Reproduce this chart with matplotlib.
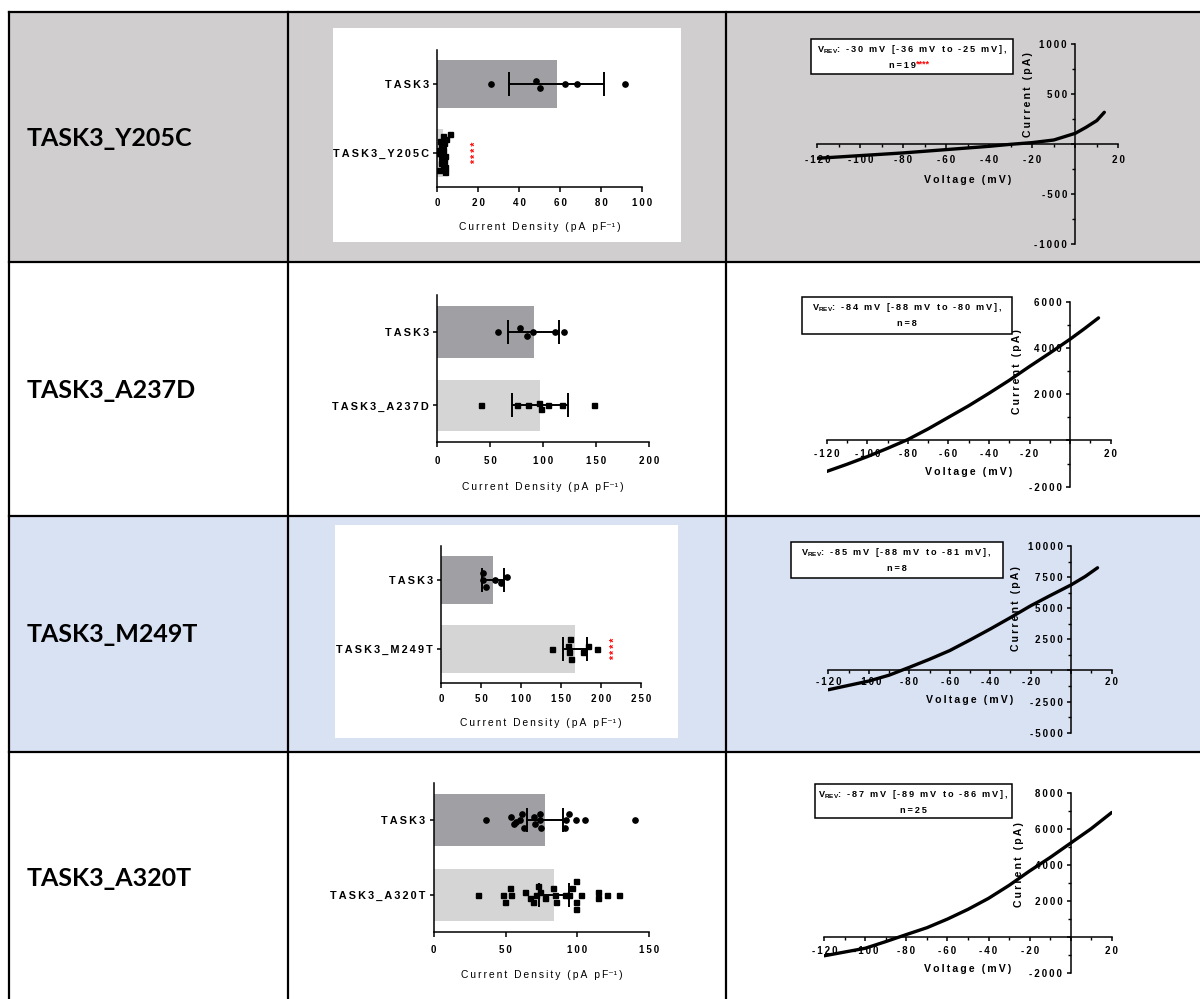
import numpy as np
import matplotlib
matplotlib.use("Agg")
import matplotlib.pyplot as plt
from matplotlib.patches import Rectangle
from matplotlib.lines import Line2D

plt.rcParams['font.family'] = ['Liberation Sans', 'DejaVu Sans']
plt.rcParams['font.weight'] = 'bold'
plt.rcParams['mathtext.fontset'] = 'custom'
plt.rcParams['mathtext.rm'] = 'Liberation Sans:bold'
plt.rcParams['mathtext.bf'] = 'Liberation Sans:bold'
plt.rcParams['mathtext.it'] = 'Liberation Sans:bold:italic'

W, H = 1200, 999
GREY_ROW = '#d0cece'
BLUE_ROW = '#d9e2f3'
DARK_BAR = '#a09fa3'
LIGHT_BAR = '#d5d5d5'
THIN = '\u2009'

# row names
mutants = ['TASK3_Y205C', 'TASK3_A237D', 'TASK3_M249T', 'TASK3_A320T']

# ---- current density (bar) data ----
y205c_cats = ['TASK3', 'TASK3_Y205C']
y205c_mean = [58.4, 2.9]
y205c_sd = [23.2, 1.4]
y205c_wt = [26.4, 48.4, 50.3, 62.5, 68.4, 91.7]
y205c_wt_dy = [0, 0.05, -0.05, 0, 0, 0]
y205c_mut = [6.0, 2.8, 4.2, 1.5, 3.5, 2.0, 0.8, 3.0, 1.2, 2.5, 3.8, 0.5, 2.2, 3.2, 1.8, 4.0, 2.6, 1.0, 3.6]
y205c_mut_dy = [0.28, 0.25, 0.2, 0.18, 0.15, 0.1, 0.05, 0.05, 0.0, -0.02, -0.05, 0.0,
                -0.08, -0.12, -0.15, -0.2, -0.22, -0.25, -0.28]

a237d_cats = ['TASK3', 'TASK3_A237D']
a237d_mean = [91.2, 97.0]
a237d_sd = [23.9, 26.4]
a237d_wt = [57.5, 78, 84.5, 90, 111.5, 120]
a237d_wt_dy = [0, 0.05, -0.05, 0, 0, 0]
a237d_mut = [41, 75.5, 86, 96, 98, 104.5, 117.5, 147.5]
a237d_mut_dy = [0, 0, 0, 0.03, -0.05, 0, 0, 0]

m249t_cats = ['TASK3', 'TASK3_M249T']
m249t_mean = [65.0, 167.5]
m249t_sd = [13.2, 14.8]
m249t_wt = [52.5, 53, 56, 67, 75, 82]
m249t_wt_dy = [0, 0.1, -0.09, 0, -0.04, 0.05]
m249t_mut = [138.5, 159, 161, 160, 163, 178, 184, 194.5]
m249t_mut_dy = [0, 0.04, 0.14, -0.05, -0.14, -0.05, 0.05, 0]

a320t_cats = ['TASK3', 'TASK3_A320T']
a320t_mean = [77.7, 83.5]
a320t_sd = [12.6, 10.5]
a320t_wt = [36.4, 53.8, 55.9, 57.3, 59.8, 61.4, 62.6, 69.6, 70.3, 74.2, 74.2, 74.9,
            91.1, 91.8, 93.9, 99.0, 105.5, 140.3]
a320t_wt_dy = [0, 0.04, -0.05, -0.02, 0, 0.09, -0.1, 0.04, -0.05, 0.09, 0, -0.1,
               -0.1, 0, 0.09, 0, 0, 0]
a320t_mut = [30.6, 48.2, 49.9, 52.9, 53.8, 63.5, 66.8, 68.9, 71.4, 72.6, 74.2, 77.2, 83.0,
             84.2, 85.1, 91.1, 94.4, 96.2, 99.2, 99.2, 99.2, 102.5, 114.3, 114.3, 120.6, 129.1]
a320t_mut_dy = [0, 0, -0.1, 0.09, 0, 0.04, -0.04, -0.1, 0, 0.12, 0.04, -0.05, 0.09,
                0, -0.1, 0, 0, 0.09, 0.18, -0.1, -0.19, 0, 0.04, -0.05, 0, 0]

# ---- I-V curves (mV, pA) ----
iv_v_y205c = [-120, -100, -80, -60, -40, -30, -20, -10, 0, 5, 10, 13.5]
iv_i_y205c = [-140, -113, -86, -53, -20, 0, 17, 43, 110, 170, 237, 320]
iv_v_a237d = [-120, -110, -100, -90, -80, -70, -60, -50, -40, -30, -20, -10, 0, 7, 14]
iv_i_a237d = [-1340, -1030, -700, -340, 40, 500, 1000, 1500, 2040, 2600, 3200, 3780, 4380, 4830, 5300]
iv_v_m249t = [-120, -110, -100, -90, -80, -70, -60, -50, -40, -30, -20, -10, 0, 7, 13]
iv_i_m249t = [-1550, -1200, -850, -380, 250, 900, 1600, 2450, 3330, 4250, 5200, 6050, 6880, 7560, 8250]
iv_v_a320t = [-120, -110, -100, -90, -80, -70, -60, -50, -40, -30, -20, -10, 0, 10, 20]
iv_i_a320t = [-1060, -850, -640, -270, 120, 500, 980, 1520, 2130, 2850, 3650, 4400, 5200, 6000, 6900]

vrev_labels = [': -30 mV [-36 mV to -25 mV],', ': -84 mV [-88 mV to -80 mV],',
               ': -85 mV [-88 mV to -81 mV],', ': -87 mV [-89 mV to -86 mV],']
n_labels = ['n=19', 'n=8', 'n=8', 'n=25']


def sp(s):
    return THIN.join(s)


def px(x0, y0, x1, y1):
    return [x0 / W, 1 - y1 / H, (x1 - x0) / W, (y1 - y0) / H]


fig = plt.figure(figsize=(12, 9.99), dpi=100)


def add_rect(x0, y0, x1, y1, z=-1, **kw):
    fig.patches.append(Rectangle((x0 / W, 1 - y1 / H), (x1 - x0) / W, (y1 - y0) / H,
                                 transform=fig.transFigure, zorder=z, **kw))


def add_line(x0, y0, x1, y1):
    fig.add_artist(Line2D([x0 / W, x1 / W], [1 - y0 / H, 1 - y1 / H], color='black',
                          lw=1.6, transform=fig.transFigure, zorder=-0.5))


# table
add_rect(9, 12, 1200, 262, facecolor=GREY_ROW, edgecolor='none', z=-2)
add_rect(9, 516, 1200, 752, facecolor=BLUE_ROW, edgecolor='none', z=-2)
add_rect(333, 28, 681, 242, facecolor='white', edgecolor='none', z=-1.5)
add_rect(335, 525, 678, 738, facecolor='white', edgecolor='none', z=-1.5)
for yy in [12, 262, 516, 752]:
    add_line(9, yy, 1200, yy)
for xx in [9, 288, 726]:
    add_line(xx, 12, xx, 999)

for name, yc in zip(mutants, [138, 391, 634, 878]):
    fig.text(27 / W, 1 - yc / H, name, fontfamily='Lato', fontweight='bold',
             fontsize=18, va='center', ha='left')


def bar_panel(rect, cats, means, sds, wt, wt_dy, mut, mut_dy, xmax, xstep,
              star_x=None, tpad=4, lpad=10.5):
    ax = fig.add_axes(px(*rect))
    ax.patch.set_visible(False)
    ypos = [1, 0]
    ax.barh(ypos, means, height=0.7, color=[DARK_BAR, LIGHT_BAR], zorder=1)
    ax.plot(wt, [1 + d for d in wt_dy], 'o', color='black', ms=3.8, zorder=2)
    ax.plot(mut, mut_dy, 's', color='black', ms=3.6, zorder=2)
    ax.errorbar(means, ypos, xerr=sds, fmt='none', ecolor='black', elinewidth=1.4,
                capsize=8.5, capthick=1.4, zorder=3)
    if star_x is not None:
        ax.text(star_x, 0, sp('****'), rotation=90, color='red', fontsize=7.5,
                ha='center', va='center')
    ax.set_xlim(0, xmax)
    ax.set_ylim(-0.5, 1.5)
    for s in ['top', 'right']:
        ax.spines[s].set_visible(False)
    for s in ['left', 'bottom']:
        ax.spines[s].set_linewidth(1.1)
    xt = np.arange(0, xmax + 1, xstep)
    ax.set_xticks(xt)
    ax.set_xticklabels([sp(str(t)) for t in xt])
    ax.set_yticks(ypos)
    ax.set_yticklabels([sp(c) for c in cats])
    ax.tick_params(axis='x', length=3.6, width=1.1, labelsize=7, pad=tpad)
    ax.tick_params(axis='y', length=3, width=1.1, labelsize=7.8, pad=3)
    ax.set_xlabel(sp('Current Density (pA pF') + '\u207b\u00b9' + THIN + ')',
                  fontsize=7.4, labelpad=lpad)
    return ax


def iv_panel(rect, v, cur, ylo, yhi, ystep, ylab_dx, box, vrev, nlab, stars=False,
             tpad=3, xlab_dy=-23):
    ax = fig.add_axes(px(*rect))
    ax.patch.set_visible(False)
    ax.plot(v, cur, color='black', lw=2.4, solid_capstyle='round', zorder=3)
    ax.set_xlim(-120, 20)
    ax.set_ylim(ylo, yhi)
    for s in ['top', 'right']:
        ax.spines[s].set_visible(False)
    for s in ['left', 'bottom']:
        ax.spines[s].set_position(('data', 0))
        ax.spines[s].set_linewidth(1.1)
    xt = np.arange(-120, 21, 20)
    ax.set_xticks(xt)
    ax.set_xticklabels([sp(str(t)) if t else '' for t in xt])
    ax.set_xticks(np.arange(-110, 20, 20), minor=True)
    yt = np.arange(ylo, yhi + 1, ystep)
    ax.set_yticks(yt)
    ax.set_yticklabels([sp(str(t)) if t else '' for t in yt])
    ax.set_yticks(np.arange(ylo + ystep / 2, yhi, ystep), minor=True)
    ax.tick_params(which='major', length=3, width=1.1, labelsize=7, pad=3)
    ax.tick_params(axis='x', which='major', pad=tpad)
    ax.tick_params(which='minor', length=2, width=1.0)
    ax.annotate(sp('Voltage') + THIN + ' ' + THIN + sp('(mV)'), xy=(0.5, 0),
                xycoords=('axes fraction', 'data'), xytext=(0, xlab_dy),
                textcoords='offset points', ha='center', va='center', fontsize=7.6)
    ax.annotate(sp('Current') + THIN + ' ' + THIN + sp('(pA)'), xy=(0, yhi / 2),
                xycoords='data', xytext=(ylab_dx, 0), textcoords='offset points',
                rotation=90, ha='center', va='center', fontsize=7.6)
    x0, y0, x1, y1 = box
    add_rect(x0, y0, x1, y1, z=4, facecolor='white', edgecolor='black', lw=1.1)
    cx = (x0 + x1) / 2
    fig.text(cx / W, 1 - (y0 + 10) / H, r'V$_{\mathrm{REV}}$' + sp(vrev), fontsize=6.55,
             ha='center', va='center', zorder=5)
    if stars:
        fig.text((cx + 4) / W, 1 - (y0 + 26) / H, sp(nlab), fontsize=6.6,
                 ha='right', va='center', zorder=5)
        fig.text((cx + 4) / W, 1 - (y0 + 25) / H, '****', fontsize=6.4, color='red',
                 ha='left', va='center', zorder=5)
    else:
        fig.text(cx / W, 1 - (y0 + 26) / H, sp(nlab), fontsize=6.6,
                 ha='center', va='center', zorder=5)
    return ax


bar_panel((437.3, 50, 642, 187.3), y205c_cats, y205c_mean, y205c_sd, y205c_wt, y205c_wt_dy,
          y205c_mut, y205c_mut_dy, 100, 20, star_x=19)
bar_panel((437, 295, 649.3, 442.3), a237d_cats, a237d_mean, a237d_sd, a237d_wt, a237d_wt_dy,
          a237d_mut, a237d_mut_dy, 200, 50, tpad=6, lpad=12)
bar_panel((441, 546, 641, 683.3), m249t_cats, m249t_mean, m249t_sd, m249t_wt, m249t_wt_dy,
          m249t_mut, m249t_mut_dy, 250, 50, star_x=217.5)
bar_panel((433.7, 783.3, 649.3, 931.7), a320t_cats, a320t_mean, a320t_sd, a320t_wt, a320t_wt_dy,
          a320t_mut, a320t_mut_dy, 150, 50, tpad=6, lpad=11)

iv_panel((817.3, 44.3, 1118.3, 244.3), iv_v_y205c, iv_i_y205c, -1000, 1000, 500, -34,
         (810.7, 39, 1013.3, 74), vrev_labels[0], n_labels[0], stars=True, tpad=5, xlab_dy=-26)
iv_panel((826.7, 301.7, 1110.7, 486.7), iv_v_a237d, iv_i_a237d, -2000, 6000, 2000, -38,
         (801.7, 297.3, 1012.3, 334), vrev_labels[1], n_labels[1])
iv_panel((828.3, 546, 1111.7, 732.7), iv_v_m249t, iv_i_m249t, -5000, 10000, 2500, -40,
         (790.7, 542.3, 1002.7, 578.3), vrev_labels[2], n_labels[2], tpad=2, xlab_dy=-21.5)
iv_panel((824.3, 792.7, 1111.7, 972.7), iv_v_a320t, iv_i_a320t, -2000, 8000, 2000, -37,
         (815, 784.3, 1012.3, 818.3), vrev_labels[3], n_labels[3], tpad=4, xlab_dy=-23.5)

fig.savefig('out.png', dpi=100, facecolor='white')
